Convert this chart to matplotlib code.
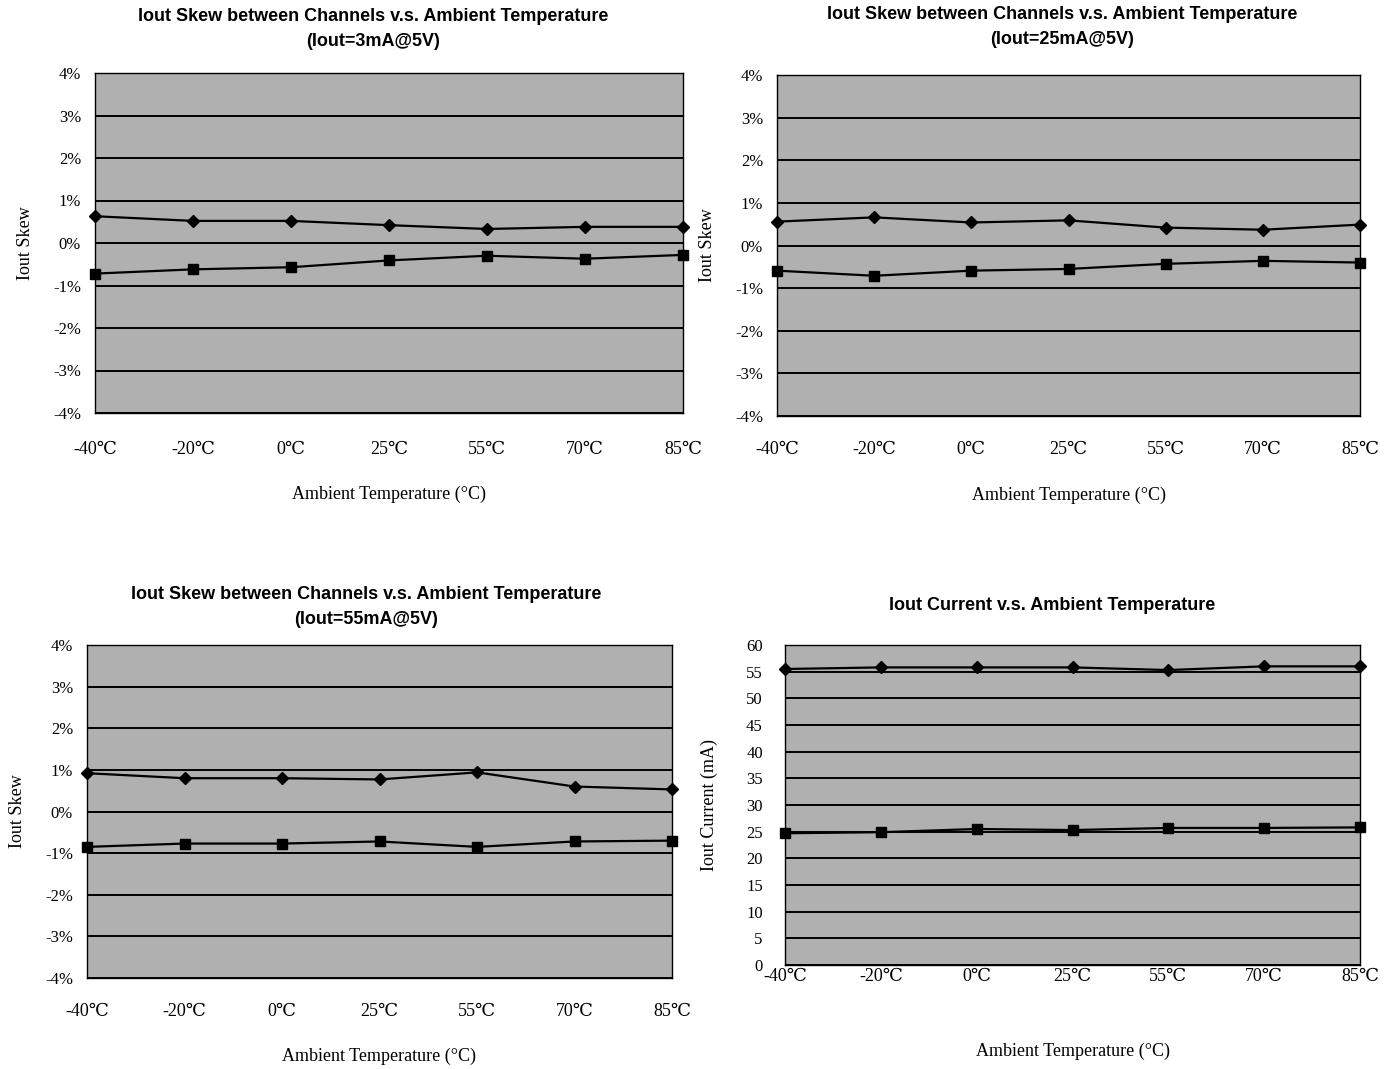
import numpy as np
import matplotlib.pyplot as plt

# temperature categories (x axis)
temps = ['-40℃', '-20℃', '0℃', '25℃', '55℃', '70℃', '85℃']

# Iout skew, % (two channels per chart)
skew_3mA_hi = [0.63, 0.52, 0.52, 0.42, 0.33, 0.38, 0.38]
skew_3mA_lo = [-0.72, -0.62, -0.57, -0.41, -0.30, -0.37, -0.28]
skew_25mA_hi = [0.56, 0.66, 0.54, 0.59, 0.42, 0.37, 0.49]
skew_25mA_lo = [-0.59, -0.71, -0.59, -0.55, -0.43, -0.36, -0.40]
skew_55mA_hi = [0.92, 0.80, 0.80, 0.77, 0.94, 0.60, 0.53]
skew_55mA_lo = [-0.85, -0.77, -0.77, -0.72, -0.85, -0.72, -0.70]

# Iout current, mA
cur_hi = [55.5, 55.8, 55.8, 55.8, 55.3, 56.0, 56.0]
cur_lo = [24.7, 24.9, 25.5, 25.3, 25.7, 25.7, 25.8]

W, H = 1394, 1069
SERIF = ['Liberation Serif', 'DejaVu Serif']
SANS = ['Liberation Sans', 'DejaVu Sans']

fig = plt.figure(figsize=(W / 100, H / 100), dpi=100)


def px_axes(left, top, right, bottom):
    return fig.add_axes([left / W, 1 - bottom / H, (right - left) / W, (bottom - top) / H])


def draw_panel(ax, hi, lo, yticks, ylabels, ylim, ylab, title, title_xy,
               xpad, xlabpad, ypad=10, ylabpad=14):
    x = np.arange(len(temps))
    ax.set_facecolor('#b0b0b0')
    for y in yticks:
        ax.axhline(y, color='black', lw=1.4, zorder=1)
    ax.plot(x, hi, color='black', lw=1.6, marker='D', ms=6, zorder=3, clip_on=False)
    ax.plot(x, lo, color='black', lw=1.6, marker='s', ms=7, zorder=3, clip_on=False)
    ax.set_xlim(0, len(temps) - 1)
    ax.set_ylim(*ylim)
    ax.set_yticks(yticks)
    ax.set_yticklabels(ylabels, family=SERIF, fontsize=12)
    ax.set_xticks(x)
    ax.set_xticklabels(temps, family=SERIF, fontsize=13)
    ax.tick_params(axis='x', length=0, pad=xpad)
    ax.tick_params(axis='y', length=0, pad=ypad)
    for s in ax.spines.values():
        s.set_color('black')
        s.set_linewidth(1.0)
    ax.set_xlabel('Ambient Temperature (°C)', family=SERIF, fontsize=13, labelpad=xlabpad)
    ax.set_ylabel(ylab, family=SERIF, fontsize=13, labelpad=ylabpad)
    fig.text(title_xy[0] / W, 1 - title_xy[1] / H, title, ha='center', va='top',
             family=SANS, fontweight='bold', fontsize=13, linespacing=1.6)


pct_ticks = [-4, -3, -2, -1, 0, 1, 2, 3, 4]
pct_labels = ['%d%%' % t for t in pct_ticks]

ax1 = px_axes(95, 73, 683, 413)
draw_panel(ax1, skew_3mA_hi, skew_3mA_lo, pct_ticks, pct_labels, (-4, 4), 'Iout Skew',
           'Iout Skew between Channels v.s. Ambient Temperature\n(Iout=3mA@5V)', (373, 8), 20, 20)

ax2 = px_axes(777, 75, 1360, 416)
draw_panel(ax2, skew_25mA_hi, skew_25mA_lo, pct_ticks, pct_labels, (-4, 4), 'Iout Skew',
           'Iout Skew between Channels v.s. Ambient Temperature\n(Iout=25mA@5V)', (1062, 6), 18, 21)

ax3 = px_axes(87, 645, 672, 978)
draw_panel(ax3, skew_55mA_hi, skew_55mA_lo, pct_ticks, pct_labels, (-4, 4), 'Iout Skew',
           'Iout Skew between Channels v.s. Ambient Temperature\n(Iout=55mA@5V)', (366, 586), 18, 20)

cur_ticks = list(range(0, 65, 5))
ax4 = px_axes(785, 645, 1360, 965)
draw_panel(ax4, cur_hi, cur_lo, cur_ticks, [str(t) for t in cur_ticks], (0, 60), 'Iout Current (mA)',
           'Iout Current v.s. Ambient Temperature', (1052, 597), 2, 42, ypad=16, ylabpad=20)

fig.savefig('out.png', dpi=100, facecolor='white')
